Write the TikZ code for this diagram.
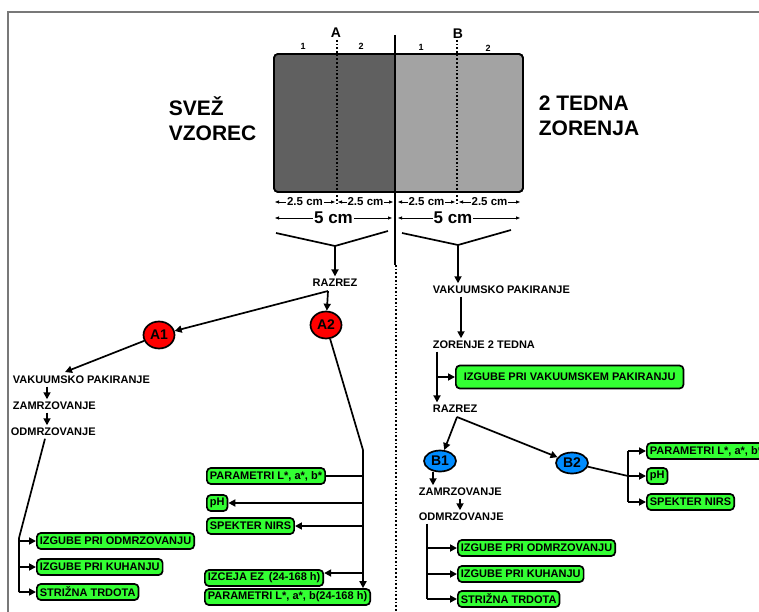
\documentclass[tikz,border=0pt]{standalone}
\usepackage{fontspec}
\setmainfont{Liberation Sans}
\usetikzlibrary{shapes.geometric,arrows.meta}
\definecolor{boxgreen}{RGB}{51,255,51}
\definecolor{ovalred}{RGB}{255,0,0}
\definecolor{ovalblue}{RGB}{0,140,255}
\definecolor{fresh}{RGB}{96,96,96}
\definecolor{aged}{RGB}{163,163,163}
\definecolor{framegray}{RGB}{120,120,120}
\tikzset{
  lbl/.style={font=\bfseries\fontsize{11}{12}\selectfont, inner sep=2pt},
  gbox/.style={lbl, draw, fill=boxgreen, rounded corners=4pt, minimum height=16pt, inner xsep=3pt},
  bigbox/.style={minimum height=23pt, inner xsep=8pt},
  ovalA/.style={ellipse, draw, fill=ovalred, minimum width=31pt, minimum height=27pt, inner sep=0pt, font=\bfseries\fontsize{14}{14}\selectfont},
  ovalB/.style={ellipse, draw, fill=ovalblue, minimum width=32pt, minimum height=21pt, inner sep=0pt, font=\bfseries\fontsize{14}{14}\selectfont},
  title/.style={font=\bfseries\fontsize{21}{25}\selectfont, align=left, inner sep=0pt},
  cutlbl/.style={font=\bfseries\fontsize{14}{14}\selectfont, inner sep=0pt},
  numlbl/.style={font=\bfseries\fontsize{9}{9}\selectfont, inner sep=0pt},
  dim/.style={{Triangle[length=4pt,width=3pt]}-{Triangle[length=4pt,width=3pt]}, line width=0.8pt},
  dimtxt/.style={fill=white, inner sep=1pt, font=\bfseries\fontsize{11.5}{11.5}\selectfont},
  dimbig/.style={fill=white, inner sep=1pt, font=\bfseries\fontsize{17}{17}\selectfont}
}
\begin{document}
\begin{tikzpicture}[x=1pt, y=-1pt, line width=1.7pt, >={Triangle[length=7pt,width=7pt]}]
\useasboundingbox (0,0) rectangle (759,612);
% frame
\draw[framegray, line width=1.5pt] (8,612) -- (8,12) -- (759,12);
% sample
\draw[fill=aged, rounded corners=4pt] (274,54) rectangle (523,192);
\begin{scope}
\clip (274,54) rectangle (395,192);
\fill[fresh, rounded corners=4pt] (274,54) rectangle (410,192);
\end{scope}
\draw[rounded corners=4pt] (274,54) rectangle (523,192);
\draw (395,35) -- (395,265);
\draw[dotted] (396,265) -- (396,612);
\draw[dotted] (337,40) -- (337,205);
\draw[dotted] (457,40) -- (457,205);
\node[cutlbl] (cutA) at (336,33) {A};
\node[cutlbl] (cutB) at (458,34) {B};
\node[numlbl] (na1) at (303,46) {1};
\node[numlbl] (na2) at (361,46) {2};
\node[numlbl] (nb1) at (421,47) {1};
\node[numlbl] (nb2) at (488,48) {2};
\node[title, anchor=west] (freshtxt) at (168,119) {SVEŽ\\VZOREC};
\node[title, anchor=west] (agedtxt) at (538,116) {2 TEDNA\\ZORENJA};
% dimensions
\draw[dim] (275,202) -- node[dimtxt] {2.5 cm} (335,202);
\draw[dim] (338,202) -- node[dimtxt] {2.5 cm} (393,202);
\draw[dim] (398,202) -- node[dimtxt] {2.5 cm} (455,202);
\draw[dim] (459,202) -- node[dimtxt] {2.5 cm} (520,202);
\draw[dim] (275,218) -- node[dimbig] {5 cm} (392,218);
\draw[dim] (398,218) -- node[dimbig, xshift=-6pt] {5 cm} (520,218);
% brackets
\coordinate (vl) at (335,246);
\coordinate (vr) at (458,245);
\draw (276,233) -- (vl) -- (388,231);
\draw (402,233) -- (vr) -- (511,230);
\node[lbl] (raz1) at (335,283) {RAZREZ};
\node[lbl, anchor=west] (vak2) at (430,290) {VAKUUMSKO PAKIRANJE};
\draw[->] (vl) -- (raz1);
\draw[->] (vr) -- (vr |- vak2.north);
% fresh sample
\coordinate (r1) at (328,291);
\node[ovalA] (a1) at (159,335) {A1};
\node[ovalA] (a2) at (326,325) {A2};
\draw[->] (r1) -- (a1);
\draw[->] (r1) -- (a2);
\node[lbl, anchor=west] (vak1) at (10,380) {VAKUUMSKO PAKIRANJE};
\node[lbl, anchor=west] (zam1) at (10,406) {ZAMRZOVANJE};
\node[lbl, anchor=west] (odm1) at (8,432) {ODMRZOVANJE};
\coordinate (v1top) at (65,372);
\coordinate (lx) at (47,0);
\coordinate (ox) at (45,0);
\draw[->] (a1) -- (v1top);
\draw[->] (vak1.south -| lx) -- (zam1.north -| lx);
\draw[->] (zam1.south -| lx) -- (odm1.north -| lx);
\node[gbox, anchor=west] (g1) at (36,541) {IZGUBE PRI ODMRZOVANJU};
\node[gbox, anchor=west] (g2) at (36,567) {IZGUBE PRI KUHANJU};
\node[gbox, anchor=west] (g3) at (36,592) {STRIŽNA TRDOTA};
\coordinate (lbus) at (19,538);
\draw (odm1.south -| ox) -- (lbus) -- (lbus |- g3.west);
\foreach \b in {g1,g2,g3} \draw[->] (lbus |- \b.west) -- (\b.west);
\coordinate (abus) at (363,450);
\node[gbox, anchor=west] (q1) at (206,476) {PARAMETRI L*, a*, b*};
\node[gbox, anchor=west] (q2) at (206,503) {pH};
\node[gbox, anchor=west] (q3) at (206,526) {SPEKTER NIRS};
\node[gbox, anchor=west] (q4) at (204,578) {IZCEJA EZ \,(24-168 h)};
\node[gbox, anchor=west] (q5) at (204,597) {PARAMETRI L*, a*, b(24-168 h)};
\draw (a2) -- (abus);
\draw[->] (abus) -- (abus |- q5.north);
\draw (q1.east) -- (q1.east -| abus);
\draw[->] (q2.east -| abus) -- (q2.east);
\draw[->] (q3.east -| abus) -- (q3.east);
\coordinate (ezin) at ([yshift=5pt]q4.east);
\draw[->] (ezin -| abus) -- (ezin);
% aged sample
\node[lbl, anchor=west] (zor) at (430,345) {ZORENJE 2 TEDNA};
\coordinate (vx) at (461,0);
\draw[->] (vak2.south -| vx) -- (zor.north -| vx);
\node[gbox, bigbox, anchor=west] (vp) at (455,377) {IZGUBE PRI VAKUUMSKEM PAKIRANJU};
\node[lbl, anchor=west] (raz2) at (430,409) {RAZREZ};
\coordinate (zx) at (437,0);
\draw[->] (zor.south -| zx) -- (raz2.north -| zx);
\draw[->] (vp.west -| zx) -- (vp.west);
\coordinate (r2) at (457,417);
\node[ovalB] (b1) at (440,461) {B1};
\node[ovalB] (b2) at (572,463) {B2};
\draw[->] (r2) -- (b1);
\draw[->] (r2) -- (b2);
\node[lbl, anchor=west] (zam2) at (416,492) {ZAMRZOVANJE};
\node[lbl, anchor=west] (odm2) at (416,517) {ODMRZOVANJE};
\coordinate (bx) at (433,0);
\coordinate (zx2) at (460,0);
\draw[->] (b1.south -| bx) -- (zam2.north -| bx);
\draw[->] (zam2.south -| zx2) -- (odm2.north -| zx2);
\node[gbox, anchor=west] (g4) at (457,548) {IZGUBE PRI ODMRZOVANJU};
\node[gbox, anchor=west] (g5) at (457,574) {IZGUBE PRI KUHANJU};
\node[gbox, anchor=west] (g6) at (457,599) {STRIŽNA TRDOTA};
\coordinate (rx) at (427,0);
\draw (odm2.south -| rx) -- (rx |- g6.west);
\foreach \b in {g4,g5,g6} \draw[->] (rx |- \b.west) -- (\b.west);
\node[gbox, anchor=west] (s1) at (646,451) {PARAMETRI L*, a*, b*};
\node[gbox, anchor=west] (s2) at (646,476) {pH};
\node[gbox, anchor=west] (s3) at (646,502) {SPEKTER NIRS};
\coordinate (sx) at (628,0);
\draw (b2) -- (s2.west -| sx);
\draw (sx |- s1.west) -- (sx |- s3.west);
\foreach \b in {s1,s2,s3} \draw[->] (sx |- \b.west) -- (\b.west);
\end{tikzpicture}
\end{document}
